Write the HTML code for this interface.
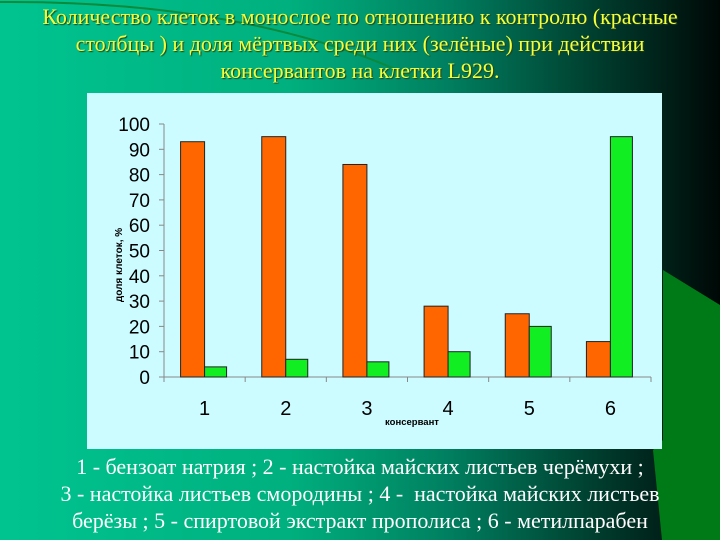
<!DOCTYPE html>
<html><head><meta charset="utf-8"><style>
html,body{margin:0;padding:0}
body{width:720px;height:540px;overflow:hidden;position:relative;background:linear-gradient(90deg,#00c490 0%,#00b07e 40%,#008060 62%,#004030 82%,#000806 100%);font-family:"Liberation Serif","Noto Serif CJK SC",serif}
.title{position:absolute;left:0;width:720px;top:3px;text-align:center;color:#f2ff3a;font-size:22px;line-height:27px;text-shadow:1px 1px 1px #204020;white-space:nowrap}
.foot{position:absolute;left:0;width:720px;top:453px;text-align:center;color:#fff;font-size:22px;line-height:27px;white-space:nowrap}
</style></head><body>
<svg width="720" height="540" style="position:absolute;left:0;top:0">
<path d="M0,2 Q250,0 420,80" stroke="#0a8a3a" stroke-width="2" fill="none"/>
<polygon points="663,270 720,305 720,540 662,540 653,450 663,440" fill="#007a16"/>
</svg>
<div class="title">Количество клеток в монослое по отношению к контролю (красные<br>столбцы ) и доля мёртвых среди них (зелёные) при действии<br>консервантов на клетки L929.</div>
<svg id="chart" width="720" height="540" style="position:absolute;left:0;top:0">
<rect x="87" y="93" width="575" height="356" fill="#ccfcff"/>
</svg>
<div class="foot">1 - бензоат натрия ; 2 - настойка майских листьев черёмухи ;<br>3 - настойка листьев смородины ; 4 -&nbsp; настойка майских листьев<br>берёзы ; 5 - спиртовой экстракт прополиса ; 6 - метилпарабен</div>
<script>
const categories=["1","2","3","4","5","6"];
const totalCells=[93,95,84,28,25,14];
const deadCells=[4,7,6,10,20,95];
const yTicks=[0,10,20,30,40,50,60,70,80,90,100];
const NS="http://www.w3.org/2000/svg";
const svg=document.getElementById('chart');
const x0=164,x1=651,y0=377,y100=124;
const yS=v=>y0-(v/100)*(y0-y100);
const cw=(x1-x0)/categories.length;
const xC=i=>x0+cw*(i+0.5);
function mk(t,a){const e=document.createElementNS(NS,t);for(const k in a)e.setAttribute(k,a[k]);svg.appendChild(e);return e;}
let ax=mk('line',{x1:x0,y1:y100,x2:x0,y2:y0+1,stroke:'#888'});


let bx=mk('line',{x1:x0-5,y1:y0,x2:x1,y2:y0,stroke:'#888'});


yTicks.forEach(v=>{
 let t=mk('line',{x1:x0-5,y1:yS(v),x2:x0,y2:yS(v),stroke:'#888'});
 
 
 let l=mk('text',{x:x0-14,y:yS(v)+7,'text-anchor':'end','font-family':'Liberation Sans, sans-serif','font-size':'19',fill:'#000'});
 l.textContent=v;
 
 
});
for(let i=0;i<=categories.length;i++){
 let t=mk('line',{x1:x0+cw*i,y1:y0,x2:x0+cw*i,y2:y0+5,stroke:'#888'});
 
 
}
categories.forEach((c,i)=>{
 const cx=xC(i);
 let r=mk('rect',{x:cx-24,y:yS(totalCells[i]),width:24,height:y0-yS(totalCells[i]),fill:'#ff6600',stroke:'#222','stroke-width':1});
 
 
 let g=mk('rect',{x:cx,y:yS(deadCells[i]),width:22,height:y0-yS(deadCells[i]),fill:'#11ee22',stroke:'#222','stroke-width':1});
 
 
 let l=mk('text',{x:cx,y:415,'text-anchor':'middle','font-family':'Liberation Sans, sans-serif','font-size':'20',fill:'#000'});
 l.textContent=c;
 
 
});
let xt=mk('text',{x:412,y:425,'text-anchor':'middle','font-family':'Liberation Sans, sans-serif','font-size':'9.5','font-weight':'bold',fill:'#000'});
xt.textContent='консервант';


let yt=mk('text',{x:0,y:0,'text-anchor':'middle','font-family':'Liberation Sans, sans-serif','font-size':'10','font-weight':'bold',fill:'#000',transform:'translate(122,265) rotate(-90)'});
yt.textContent='доля клеток, %';


</script>
</body></html>
